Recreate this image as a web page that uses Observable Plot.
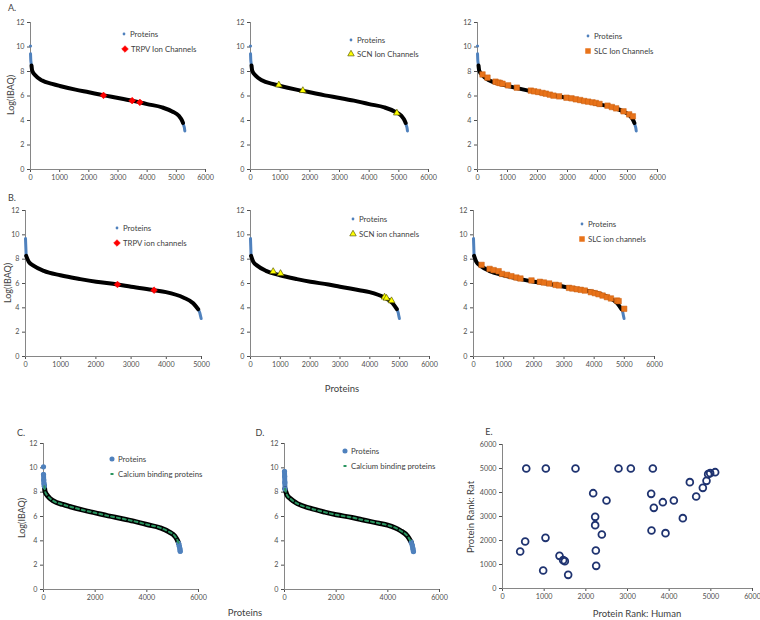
<!DOCTYPE html>
<html><head><meta charset="utf-8">
<script src="https://cdn.jsdelivr.net/npm/d3@7"></script>
<script src="https://cdn.jsdelivr.net/npm/@observablehq/plot@0.6"></script>
<style>
body{margin:0;background:#fff;font-family:Lato,"Open Sans",sans-serif;}
#fig{position:relative;width:760px;height:620px;overflow:hidden;background:#fff;}
.lbl{position:absolute;color:#404040;white-space:nowrap;line-height:1;}
.leg{position:absolute;display:flex;align-items:center;height:12px;font-size:7.8px;color:#404040;white-space:nowrap;}
.leg svg{display:block;}
</style></head><body><div id="fig"></div>
<script>
// ---------- data ----------
// Human proteome rank curve (panels A, C)
const humanRank = [1, 8, 20, 34, 57, 171, 400, 743, 1006, 1543, 2000, 2503, 3006, 3486, 3749, 4000, 4514, 4857, 5086, 5200, 5230, 5257, 5280, 5291];
const humanLog  = [9.45, 9.0, 8.7, 8.49, 8.08, 7.67, 7.26, 6.99, 6.82, 6.52, 6.30, 6.05, 5.84, 5.62, 5.48, 5.34, 5.07, 4.74, 4.38, 3.97, 3.80, 3.56, 3.35, 3.15];
const humanTopRank = [0];
const humanTopLog = [10.08];
// Rat proteome rank curve (panels B, D)
const ratRank = [0, 5, 12, 19, 94, 236, 519, 991, 1557, 2009, 2613, 3000, 3651, 3991, 4481, 4764, 4906, 4950, 4972, 4991];
const ratLog  = [9.70, 9.30, 8.80, 8.27, 7.78, 7.45, 7.04, 6.68, 6.36, 6.14, 5.92, 5.73, 5.45, 5.29, 4.85, 4.38, 3.89, 3.60, 3.34, 3.12];

// Ion channels, human
const trpvHumanRank = [2503, 3486, 3749];
const trpvHumanLog  = [6.05, 5.62, 5.48];
const scnHumanRank = [955, 1764, 4933];
const scnHumanLog  = [6.90, 6.44, 4.61];
const slcHumanRank = [167, 333, 600, 700, 750, 833, 1022, 1311, 1778, 1889, 2022, 2167, 2278, 2411, 2533, 2722, 2967, 3133, 3278, 3422, 3556, 3689, 3833, 3944, 4067, 4333, 4478, 4622, 4867, 5056, 5178];
const slcHumanLog  = [7.76, 7.50, 7.17, 7.09, 7.06, 7.00, 6.87, 6.68, 6.44, 6.38, 6.33, 6.25, 6.19, 6.11, 6.03, 5.97, 5.86, 5.81, 5.73, 5.67, 5.59, 5.54, 5.48, 5.43, 5.35, 5.21, 5.10, 4.99, 4.75, 4.50, 4.34];
// Ion channels, rat
const trpvRatRank = [2613, 3651];
const trpvRatLog  = [5.92, 5.45];
const scnRatRank = [760, 1006, 4492, 4559, 4726];
const scnRatLog  = [6.98, 6.82, 4.88, 4.79, 4.58];
const slcRatRank = [267, 533, 667, 833, 944, 1111, 1256, 1422, 1556, 1922, 2200, 2333, 2511, 2722, 2833, 3167, 3278, 3422, 3556, 3689, 3889, 4022, 4144, 4278, 4422, 4556, 4756, 4811, 4995];
const slcRatLog  = [7.53, 7.20, 7.10, 7.01, 6.79, 6.71, 6.60, 6.49, 6.41, 6.25, 6.14, 6.08, 6.00, 5.89, 5.84, 5.64, 5.59, 5.53, 5.48, 5.42, 5.29, 5.21, 5.12, 5.01, 4.88, 4.77, 4.60, 4.55, 3.92];

// Panel E: protein rank human vs rat
const rankHuman = [570, 1040, 1752, 2784, 3080, 3608, 5104, 4984, 4936, 4896, 4808, 4496, 4648, 2176, 2496, 3568, 3848, 4112, 3632, 4328, 2224, 2224, 2384, 3576, 3912, 544, 1032, 424, 1368, 1456, 1496, 2240, 2248, 976, 1576];
const rankRat   = [5000, 5000, 5000, 5000, 5000, 5000, 4847, 4806, 4764, 4486, 4194, 4431, 3833, 3972, 3667, 3944, 3597, 3667, 3361, 2931, 2986, 2639, 2250, 2417, 2306, 1958, 2111, 1542, 1361, 1181, 1139, 1583, 944, 750, 569];

const ticks6000 = [0, 1000, 2000, 3000, 4000, 5000, 6000];
const ticks5000 = [0, 1000, 2000, 3000, 4000, 5000];
const ticks6000b = [0, 2000, 4000, 6000];
const ticksLog = [0, 2, 4, 6, 8, 10, 12];

// ---------- helpers ----------
const fig = document.getElementById("fig");
const pts = (xs, ys) => xs.map((x, i) => ({x, y: ys[i]}));
const BLUE = "#4f81bd", BLACK = "#000", RED = "#ff0000", YEL = "#ffff00", ORANGE = "#e8731a", GREEN = "#2a9560", NAVY = "#1f3370";

function panel(o) {
  const svg = Plot.plot({
    width: o.w, height: o.h,
    marginLeft: o.ml, marginRight: o.mr, marginTop: o.mt, marginBottom: o.mb,
    style: {background: "none", overflow: "visible", fontFamily: "Lato, sans-serif", fontSize: "7.2px", color: "#505050"},
    x: {domain: o.xd, ticks: o.xt, tickSize: 3, tickPadding: 2, label: null, tickFormat: d => String(d)},
    y: {domain: o.yd, ticks: o.yt, tickSize: 3, tickPadding: 3, label: null, tickFormat: d => String(d)},
    marks: [
      Plot.ruleX([o.xd[0]], {stroke: "#868686"}),
      Plot.ruleY([o.yd[0]], {stroke: "#868686"}),
      ...o.marks
    ]
  });
  svg.style.position = "absolute";
  svg.style.left = o.l + "px";
  svg.style.top = o.t + "px";
  fig.appendChild(svg);
}

function curveMarks(kind, thick) {
  const isHuman = kind === "human";
  const data = isHuman ? pts(humanRank, humanLog) : pts(ratRank, ratLog);
  const lo = isHuman ? 34 : 19, hi = isHuman ? 5230 : 4906;
  const mid = data.filter(d => d.x >= lo && d.x <= hi);
  const head = data.filter(d => d.x <= lo);
  const tail = data.filter(d => d.x >= hi);
  const w = thick ? 5 : 4, wb = thick ? 5 : 3;
  const marks = [
    Plot.line(head, {x: "x", y: "y", stroke: BLUE, strokeWidth: wb, curve: "monotone-x"}),
    Plot.line(tail, {x: "x", y: "y", stroke: BLUE, strokeWidth: wb, curve: "monotone-x"}),
    Plot.line(mid, {x: "x", y: "y", stroke: BLACK, strokeWidth: w, curve: "monotone-x"})
  ];
  if (isHuman) marks.push(Plot.dot(pts(humanTopRank, humanTopLog), {x: "x", y: "y", r: thick ? 2.6 : 1.6, fill: BLUE}));
  if (thick) {
    marks.push(Plot.dot(head, {x: "x", y: "y", r: 2.6, fill: BLUE}));
    marks.push(Plot.dot(tail, {x: "x", y: "y", r: 2.6, fill: BLUE}));
    marks.push(Plot.line(mid, {x: "x", y: "y", stroke: GREEN, strokeWidth: 2, strokeDasharray: "3,3", curve: "monotone-x"}));
  }
  return marks;
}

const diamond = (xs, ys) => Plot.dot(pts(xs, ys), {x: "x", y: "y", symbol: "diamond2", r: 3, fill: RED, stroke: RED, strokeWidth: 0.6});
const tri = (xs, ys) => Plot.dot(pts(xs, ys), {x: "x", y: "y", symbol: "triangle", r: 2.5, fill: YEL, stroke: "#5c5c00", strokeWidth: 0.7});
const sq = (xs, ys) => Plot.dot(pts(xs, ys), {x: "x", y: "y", symbol: "square", r: 3.1, fill: ORANGE, stroke: "#c85f10", strokeWidth: 0.5});

const base = {xd: [0, 6000], xt: ticks6000, yd: [0, 12], yt: ticksLog};
const rowA = {t: 0, h: 185, mt: 22, mb: 16, mr: 10};
const rowB = {t: 190, h: 182, mt: 20, mb: 16, mr: 10};
const rowC = {t: 425, h: 180, mt: 18, mb: 16, mr: 10};

panel({...base, ...rowA, l: 0, w: 215, ml: 30, marks: [...curveMarks("human"), diamond(trpvHumanRank, trpvHumanLog)]});
panel({...base, ...rowA, l: 215, w: 223, ml: 35, marks: [...curveMarks("human"), tri(scnHumanRank, scnHumanLog)]});
panel({...base, ...rowA, l: 440, w: 227, ml: 37, marks: [...curveMarks("human"), sq(slcHumanRank, slcHumanLog)]});

panel({...base, ...rowB, xd: [0, 5000], xt: ticks5000, l: 0, w: 211, ml: 25, marks: [...curveMarks("rat"), diamond(trpvRatRank, trpvRatLog)]});
panel({...base, ...rowB, l: 215, w: 224, ml: 35, marks: [...curveMarks("rat"), tri(scnRatRank, scnRatLog)]});
panel({...base, ...rowB, l: 440, w: 224, ml: 33, marks: [...curveMarks("rat"), sq(slcRatRank, slcRatLog)]});

panel({...base, ...rowC, xt: ticks6000b, l: 0, w: 208, ml: 43, marks: curveMarks("human", true)});
panel({...base, ...rowC, xt: ticks6000b, l: 250, w: 199, ml: 34, marks: curveMarks("rat", true)});

panel({xd: [0, 6000], xt: ticks6000, yd: [0, 6000], yt: ticks6000, t: 425, h: 179, mt: 19, mb: 16, mr: 8, l: 460, w: 300, ml: 42,
  marks: [Plot.dot(pts(rankHuman, rankRat), {x: "x", y: "y", r: 3.4, fill: "none", stroke: NAVY, strokeWidth: 1.8})]});

// ---------- text labels ----------
function label(t, x, y, size, rot) {
  const d = document.createElement("div");
  d.className = "lbl";
  d.textContent = t;
  d.style.left = x + "px";
  d.style.top = y + "px";
  d.style.fontSize = size + "px";
  d.style.transform = "translate(-50%,-50%)" + (rot ? " rotate(-90deg)" : "");
  fig.appendChild(d);
}
label("A.", 12, 7, 9);
label("B.", 12, 197, 9);
label("C.", 21, 432, 9);
label("D.", 260, 432, 9);
label("E.", 489, 431, 9);
label("Log(IBAQ)", 10, 95, 9, true);
label("Log(IBAQ)", 7, 283, 9, true);
label("Log(IBAQ)", 21, 518, 9, true);
label("Proteins", 342, 389, 9.5);
label("Proteins", 245, 613, 9.5);
label("Protein Rank: Rat", 471, 517, 9.5, true);
label("Protein Rank: Human", 637, 614, 9.5);

// ---------- legends ----------
function legendItem(kind, x, y, text) {
  const d = document.createElement("div");
  d.className = "leg";
  d.style.left = (x - 4) + "px";
  d.style.top = (y - 6) + "px";
  const s = d3.create("svg").attr("width", 9).attr("height", 12);
  const g = s.append("g").attr("transform", "translate(4,6)");
  const sym = (type, size) => d3.symbol().type(type).size(size)();
  if (kind === "dot") g.append("path").attr("d", sym(d3.symbolCircle, 6)).attr("fill", BLUE);
  if (kind === "bigdot") g.append("path").attr("d", sym(d3.symbolCircle, 20)).attr("fill", BLUE);
  if (kind === "diamond") g.append("path").attr("d", sym(d3.symbolDiamond2, 28)).attr("fill", RED).attr("stroke", RED).attr("stroke-width", 0.6);
  if (kind === "tri") g.append("path").attr("d", sym(d3.symbolTriangle, 18)).attr("fill", YEL).attr("stroke", "#5c5c00").attr("stroke-width", 0.7);
  if (kind === "sq") g.append("path").attr("d", sym(d3.symbolSquare, 30)).attr("fill", ORANGE);
  if (kind === "dash") g.append("rect").attr("x", -1.5).attr("y", -1).attr("width", 3).attr("height", 2).attr("fill", GREEN);
  d.appendChild(s.node());
  const sp = document.createElement("span");
  sp.textContent = text;
  sp.style.marginLeft = "1px";
  d.appendChild(sp);
  fig.appendChild(d);
}
legendItem("dot", 124, 34, "Proteins");
legendItem("diamond", 125, 49, "TRPV Ion Channels");
legendItem("dot", 351, 40, "Proteins");
legendItem("tri", 351, 54, "SCN Ion Channels");
legendItem("dot", 588, 36, "Proteins");
legendItem("sq", 588, 51, "SLC Ion Channels");
legendItem("dot", 117, 228, "Proteins");
legendItem("diamond", 117, 243, "TRPV ion channels");
legendItem("dot", 353, 219, "Proteins");
legendItem("tri", 353, 234, "SCN ion channels");
legendItem("dot", 582, 224, "Proteins");
legendItem("sq", 582, 239, "SLC ion channels");
legendItem("bigdot", 112, 459, "Proteins");
legendItem("dash", 112, 474, "Calcium binding proteins");
legendItem("bigdot", 345, 451, "Proteins");
legendItem("dash", 345, 466, "Calcium binding proteins");
</script></body></html>
